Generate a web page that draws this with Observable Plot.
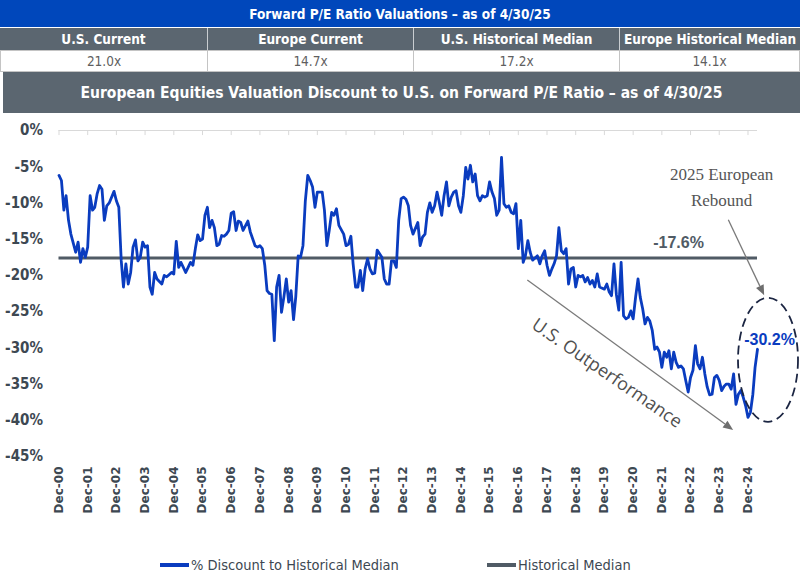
<!DOCTYPE html>
<html>
<head>
<meta charset="utf-8">
<script src="https://cdn.jsdelivr.net/npm/d3@7"></script>
<script src="https://cdn.jsdelivr.net/npm/@observablehq/plot@0.6"></script>
<style>
  body { margin: 0; background: #fff; width: 800px; height: 582px; overflow: hidden;
         font-family: "Liberation Sans Narrow", "DejaVu Sans Condensed", "Roboto", sans-serif; }
  #header { position: relative; width: 800px; height: 115px; }
  .band { position: absolute; left: 0; width: 800px; display: flex; align-items: center;
          justify-content: center; color: #fff; font-weight: bold; white-space: nowrap; }
  .row { position: absolute; left: 0; width: 800px; display: flex; }
  .cell { display: flex; align-items: center; justify-content: center; box-sizing: border-box; white-space: nowrap; }
  #chart { position: absolute; top: 115px; left: 0; }
  #legend { position: absolute; top: 540px; left: 0; width: 800px; height: 42px; }
  .item { position: absolute; top: 17px; display: flex; align-items: center; font-size: 14.5px; color: #3d4852; white-space: nowrap; }
  .swatch { width: 29px; height: 4px; margin-right: 2px; }
</style>
</head>
<body>
<div id="header"></div>
<div id="chart"></div>
<div id="legend"></div>
<script>
// Summary table
const tableTitle = "Forward P/E Ratio Valuations – as of 4/30/25";
const tableHeads = ["U.S. Current", "Europe Current", "U.S. Historical Median", "Europe Historical Median"];
const tableValues = [21.0, 14.7, 17.2, 14.1];
const tableWidths = [208, 206, 206, 180];
const chartTitle = "European Equities Valuation Discount to U.S. on Forward P/E Ratio – as of 4/30/25";

// Month-end readings of the European discount to U.S. forward P/E, in %
const dates = [
  "2000-12",
  "2001-01","2001-02","2001-03","2001-04","2001-05","2001-07","2001-08","2001-09","2001-10","2001-11","2001-12",
  "2002-01","2002-02","2002-03","2002-04","2002-05","2002-06","2002-07","2002-08","2002-09","2002-11","2002-12",
  "2003-01","2003-02","2003-03","2003-04","2003-05","2003-06","2003-07","2003-08","2003-09","2003-10","2003-11","2003-12",
  "2004-01","2004-02","2004-03","2004-04","2004-05","2004-07","2004-08","2004-09","2004-10","2004-11","2004-12",
  "2005-01","2005-02","2005-03","2005-04","2005-05","2005-06","2005-07","2005-08","2005-09","2005-10","2005-11","2005-12",
  "2006-01","2006-02","2006-03","2006-04","2006-05","2006-06","2006-07","2006-08","2006-09","2006-10","2006-11","2006-12",
  "2007-01","2007-02","2007-03","2007-04","2007-05","2007-07","2007-08","2007-10","2007-11","2007-12",
  "2008-01","2008-02","2008-03","2008-04","2008-05","2008-06","2008-07","2008-08","2008-09","2008-10","2008-11","2008-12",
  "2009-01","2009-02","2009-03","2009-04","2009-05","2009-06","2009-07","2009-08","2009-09","2009-10","2009-11","2009-12",
  "2010-02","2010-03","2010-04","2010-05","2010-06","2010-07","2010-08","2010-09","2010-11","2010-12",
  "2011-01","2011-02","2011-03","2011-04","2011-05","2011-06","2011-07","2011-08","2011-09","2011-10","2011-11","2011-12",
  "2012-01","2012-03","2012-04","2012-05","2012-06","2012-07","2012-08","2012-09","2012-10","2012-11","2012-12",
  "2013-01","2013-02","2013-03","2013-04","2013-06","2013-07","2013-08","2013-09","2013-10","2013-11","2013-12",
  "2014-01","2014-02","2014-03","2014-04","2014-05","2014-06","2014-07","2014-08","2014-09","2014-10","2014-11","2014-12",
  "2015-01","2015-02","2015-03","2015-04","2015-05","2015-06","2015-07","2015-08","2015-09","2015-10","2015-11","2015-12",
  "2016-01","2016-02","2016-03","2016-04","2016-05","2016-06","2016-07","2016-08","2016-09","2016-10","2016-11","2016-12",
  "2017-01","2017-02","2017-03","2017-04","2017-05","2017-06","2017-08","2017-09","2017-10","2017-11","2017-12",
  "2018-01","2018-02","2018-03","2018-04","2018-05","2018-06","2018-07","2018-08","2018-09","2018-10","2018-11","2018-12",
  "2019-01","2019-02","2019-03","2019-04","2019-05","2019-06","2019-07","2019-08","2019-09","2019-10","2019-12",
  "2020-01","2020-02","2020-03","2020-04","2020-05","2020-06","2020-07","2020-08","2020-09","2020-10","2020-11","2020-12",
  "2021-01","2021-02","2021-03","2021-04","2021-05","2021-06","2021-07","2021-08","2021-09","2021-10","2021-11","2021-12",
  "2022-01","2022-02","2022-03","2022-04","2022-05","2022-06","2022-07","2022-08","2022-09","2022-10","2022-11","2022-12",
  "2023-01","2023-02","2023-03","2023-04","2023-05","2023-06","2023-07","2023-08","2023-09","2023-10","2023-11","2023-12",
  "2024-01","2024-02","2024-03","2024-04","2024-05","2024-06","2024-07","2024-08","2024-09","2024-10","2024-11","2024-12",
  "2025-01","2025-02","2025-03","2025-04"
];
const discount = [
  -6.2,
  -6.9,-11.0,-9.0,-12.4,-14.3,-16.8,-15.4,-18.2,-16.3,-17.5,-16.1,
  -9.0,-11.0,-10.6,-8.7,-7.6,-8.1,-12.4,-10.4,-10.0,-8.4,-9.7,
  -10.6,-18.0,-21.6,-18.4,-21.2,-19.6,-16.1,-15.1,-18.0,-17.5,-15.4,-16.1,
  -15.9,-21.6,-22.6,-19.6,-20.5,-21.2,-20.0,-20.2,-19.9,-19.6,-19.8,
  -15.3,-18.9,-18.2,-18.9,-19.6,-18.9,-18.2,-18.6,-16.3,-14.4,-15.2,-15.0,
  -11.7,-10.6,-13.4,-12.4,-13.4,-15.9,-15.7,-14.5,-14.6,-14.3,-13.8,-11.4,
  -11.2,-13.8,-12.5,-12.7,-13.8,-12.5,-14.0,-15.9,-16.1,-15.9,
  -16.3,-18.6,-22.1,-22.5,-22.6,-29.0,-21.6,-20.0,-25.1,-23.0,-20.5,-23.7,
  -22.1,-26.1,-23.0,-17.3,-17.5,-15.9,-9.7,-6.2,-6.9,-7.8,-10.6,-8.5,
  -8.5,-11.0,-15.9,-13.8,-11.3,-11.7,-10.8,-13.1,-14.3,-15.9,
  -15.7,-14.6,-18.4,-21.6,-21.6,-19.3,-22.1,-19.1,-17.7,-19.1,-19.8,-19.7,
  -16.5,-17.5,-20.5,-21.2,-21.2,-18.0,-18.0,-18.9,-12.4,-9.4,-9.2,
  -9.5,-10.4,-13.1,-14.3,-12.7,-15.9,-14.7,-14.3,-11.3,-10.0,-11.3,
  -10.4,-8.5,-9.9,-11.7,-9.0,-7.1,-10.4,-9.2,-8.5,-8.3,-10.4,-11.3,
  -9.0,-5.1,-6.7,-4.8,-7.1,-6.0,-9.0,-9.7,-9.0,-9.2,-9.0,-7.1,
  -8.5,-9.4,-11.7,-11.0,-3.7,-10.1,-10.6,-10.4,-11.3,-11.5,-10.1,-16.3,
  -12.4,-18.2,-17.3,-15.2,-16.8,-17.9,-17.3,-18.4,-17.3,-16.6,-18.6,
  -20.0,-19.1,-18.4,-17.3,-13.4,-16.6,-17.0,-16.3,-21.2,-19.1,-18.9,-21.6,
  -20.0,-20.2,-20.0,-20.9,-20.3,-21.2,-20.7,-21.6,-19.8,-21.6,-21.9,
  -21.2,-22.3,-22.8,-18.4,-22.6,-24.8,-18.2,-25.6,-26.0,-25.8,-24.9,-26.0,
  -23.0,-20.5,-23.0,-24.6,-26.7,-25.8,-26.3,-27.6,-30.2,-29.9,-30.6,-32.7,
  -30.6,-31.3,-30.4,-32.9,-30.6,-32.0,-32.7,-32.5,-32.9,-34.5,-36.1,-34.1,
  -33.1,-29.7,-32.2,-32.9,-31.3,-33.6,-35.4,-36.5,-36.4,-34.1,-33.8,-34.5,
  -35.9,-35.3,-35.0,-35.0,-35.7,-33.6,-37.8,-36.4,-35.9,-36.8,-38.0,-39.6,
  -38.9,-36.4,-32.7,-30.2
];
const historicalMedian = -17.6;

const yTicks = [0, -5, -10, -15, -20, -25, -30, -35, -40, -45];
const xTickLabels = ["Dec-00","Dec-01","Dec-02","Dec-03","Dec-04","Dec-05","Dec-06","Dec-07","Dec-08",
  "Dec-09","Dec-10","Dec-11","Dec-12","Dec-13","Dec-14","Dec-15","Dec-16","Dec-17","Dec-18","Dec-19",
  "Dec-20","Dec-21","Dec-22","Dec-23","Dec-24"];

const seriesNames = ["% Discount to Historical Median", "Historical Median"];
const seriesColors = ["#0a3cbf", "#505b65"];

// Header table
const header = d3.select("#header");
header.append("div").attr("class", "band")
  .style("top", "0px").style("height", "27px").style("background", "#0047bb")
  .style("font-size", "13.5px").text(tableTitle);
const heads = header.append("div").attr("class", "row").style("top", "28px").style("height", "22px");
const vals = header.append("div").attr("class", "row").style("top", "50px").style("height", "22px");
tableHeads.forEach((h, i) => {
  heads.append("div").attr("class", "cell")
    .style("width", tableWidths[i] + "px").style("background", "#5b6670")
    .style("border-right", i < 3 ? "1px solid #c9cdd1" : "none")
    .style("color", "#fff").style("font-weight", "bold").style("font-size", "13.5px").text(h);
  vals.append("div").attr("class", "cell")
    .style("width", tableWidths[i] + "px").style("background", "#fff")
    .style("border", "1px solid #c4c4c4").style("border-left", i ? "none" : "1px solid #c4c4c4")
    .style("color", "#5f5f5f").style("font-size", "13.5px").text(tableValues[i].toFixed(1) + "x");
});
header.append("div").attr("class", "band")
  .style("top", "72px").style("left", "3px").style("width", "797px").style("height", "41px")
  .style("background", "#5b6670").style("font-size", "15.5px").text(chartTitle);

// Chart
const parseMonth = d3.utcParse("%Y-%m");
const series = dates.map((d, i) => ({date: parseMonth(d), value: discount[i]}));
const first = series[0].date;
const last = series[series.length - 1].date;
const lastValue = series[series.length - 1].value;
const xTicks = xTickLabels.map(d3.utcParse("%b-%y"));
const at = s => parseMonth(s);

// Annotation arrows in data coordinates
const arrows = [
  {from: [at("2017-04"), -20.7], to: [at("2024-06"), -41.4]},
  {from: [at("2024-04"), -12.4], to: [at("2025-07"), -22.8]}
];

function annotations(index, scales) {
  const {x, y} = scales;
  const g = d3.create("svg:g");
  // dashed ring around the latest reading
  g.append("ellipse")
    .attr("cx", x(last) + 11).attr("cy", y(lastValue) + 11)
    .attr("rx", 30).attr("ry", 62)
    .attr("fill", "none").attr("stroke", "#1b2542")
    .attr("stroke-width", 1.8).attr("stroke-dasharray", "9,5");
  for (const a of arrows) {
    const x1 = x(a.from[0]), y1 = y(a.from[1]), x2 = x(a.to[0]), y2 = y(a.to[1]);
    const ang = Math.atan2(y2 - y1, x2 - x1), L = 10, W = 4.2;
    const bx = x2 - L * Math.cos(ang), by = y2 - L * Math.sin(ang);
    g.append("line").attr("x1", x1).attr("y1", y1).attr("x2", bx).attr("y2", by)
      .attr("stroke", "#7a7a7a").attr("stroke-width", 1.3);
    g.append("path")
      .attr("d", `M${x2},${y2}L${bx - W * Math.sin(ang)},${by + W * Math.cos(ang)}L${bx + W * Math.sin(ang)},${by - W * Math.cos(ang)}Z`)
      .attr("fill", "#6e6e6e");
  }
  return g.node();
}

const fmtPct = v => `${v.toFixed(1)}%`;

const chart = Plot.plot({
  width: 800,
  height: 425,
  marginTop: 15,
  marginBottom: 84,
  marginLeft: 58.5,
  marginRight: 43,
  style: {background: "transparent", overflow: "visible"},
  x: {type: "utc", domain: [first, last]},
  y: {domain: [-45, 0]},
  marks: [
    Plot.ruleY([0], {stroke: "#d9d9d9", strokeWidth: 1.2}),
    Plot.ruleX(xTicks, {x: d => d, y1: 0, y2: -0.7, stroke: "#d9d9d9"}),
    Plot.axisY({
      ticks: yTicks, tickFormat: d => `${d}%`, tickSize: 0, tickPadding: 16, label: null,
      fontSize: 15, fontWeight: "bold", fill: "#3d4852",
      fontFamily: "'Liberation Sans Narrow', 'DejaVu Sans Condensed', sans-serif"
    }),
    Plot.axisX({
      anchor: "bottom", ticks: xTicks, tickFormat: d3.utcFormat("%b-%y"), tickRotate: -90,
      tickSize: 0, tickPadding: 10, label: null,
      fontSize: 12, fontWeight: "bold", fill: "#3d4852", fontFamily: "'DejaVu Sans', sans-serif"
    }),
    Plot.ruleY([historicalMedian], {x1: () => first, x2: () => last, stroke: seriesColors[1], strokeWidth: 3}),
    Plot.lineY(series, {x: "date", y: "value", stroke: seriesColors[0], strokeWidth: 2.8, strokeLinejoin: "round"}),
    Plot.text([historicalMedian], {
      x: () => at("2022-07"), y: d => d, text: d => fmtPct(d), dy: -15,
      fontSize: 16, fontWeight: "bold", fill: seriesColors[1], fontFamily: "'Liberation Sans', sans-serif"
    }),
    Plot.text([series[series.length - 1]], {
      x: "date", y: "value", text: d => fmtPct(d.value), dx: 12, dy: -9,
      fontSize: 16, fontWeight: "bold", fill: seriesColors[0], fontFamily: "'Liberation Sans', sans-serif"
    }),
    Plot.text(["2025 European\nRebound"], {
      x: () => at("2024-01"), y: () => -7.5, text: d => d, lineHeight: 1.55,
      fontSize: 17, fill: "#555", fontFamily: "'Liberation Serif', serif"
    }),
    Plot.text(["U.S. Outperformance"], {
      x: () => at("2020-01"), y: () => -33.5, text: d => d, rotate: 34.6,
      fontSize: 18, fill: "#4f4f4f", fontFamily: "'Open Sans', sans-serif"
    }),
    annotations
  ]
});
document.getElementById("chart").append(chart);

// Legend
const legend = d3.select("#legend");
const legendLeft = [160, 487];
seriesNames.forEach((name, i) => {
  const item = legend.append("div").attr("class", "item").style("left", legendLeft[i] + "px");
  item.append("div").attr("class", "swatch").style("background", seriesColors[i]);
  item.append("span").text(name);
});
</script>
</body>
</html>
